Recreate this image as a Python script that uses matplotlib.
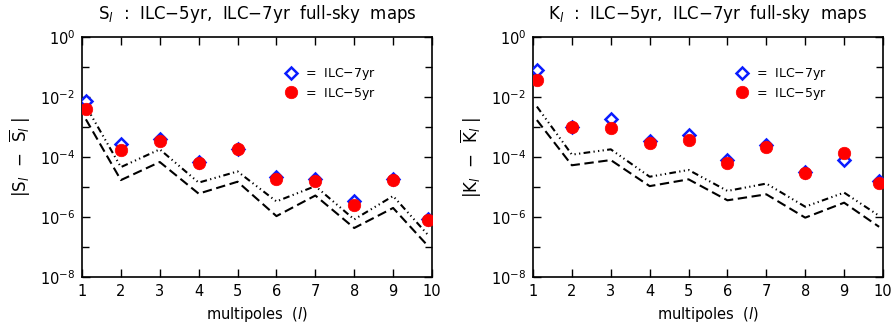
import matplotlib
matplotlib.use("Agg")
import matplotlib.pyplot as plt
from matplotlib.ticker import FixedLocator, NullFormatter, LogFormatterSciNotation

plt.rcParams['font.family'] = ['DejaVu Sans']
plt.rcParams['mathtext.fontset'] = 'dejavusans'

# multipole positions (first/last slightly offset from the frame as in the original)
ell = [1.1, 2, 3, 4, 5, 6, 7, 8, 9, 9.9]
xticks = [1, 2, 3, 4, 5, 6, 7, 8, 9, 10]

# S_l panel
S_7yr = [7.4e-3, 2.8e-4, 3.9e-4, 6.8e-5, 1.9e-4, 2.1e-5, 1.8e-5, 3.3e-6, 1.8e-5, 8.7e-7]
S_5yr = [3.9e-3, 1.7e-4, 3.5e-4, 6.5e-5, 1.9e-4, 1.8e-5, 1.55e-5, 2.6e-6, 1.7e-5, 7.7e-7]
S_upper = [5.0e-3, 4.6e-5, 1.8e-4, 1.4e-5, 3.3e-5, 3.3e-6, 1.07e-5, 8.3e-7, 5.0e-6, 2.5e-7]
S_lower = [1.8e-3, 1.7e-5, 6.8e-5, 6.0e-6, 1.5e-5, 1.07e-6, 5.2e-6, 4.3e-7, 2.0e-6, 1.07e-7]

# K_l panel
K_7yr = [7.9e-2, 1.0e-3, 1.9e-3, 3.4e-4, 5.3e-4, 8.1e-5, 2.6e-4, 3.2e-5, 8.1e-5, 1.6e-5]
K_5yr = [3.6e-2, 1.0e-3, 9.5e-4, 3.0e-4, 3.7e-4, 6.2e-5, 2.2e-4, 2.9e-5, 1.4e-4, 1.4e-5]
K_upper = [4.8e-3, 1.2e-4, 1.8e-4, 2.2e-5, 3.7e-5, 7.4e-6, 1.3e-5, 2.2e-6, 6.5e-6, 1.1e-6]
K_lower = [1.7e-3, 5.3e-5, 7.9e-5, 1.07e-5, 1.8e-5, 3.6e-6, 5.7e-6, 9.5e-7, 3.0e-6, 4.7e-7]

titles = [r'S$_{\mathit{l}}$  :  ILC$-$5yr,  ILC$-$7yr  full-sky  maps',
          r'K$_{\mathit{l}}$  :  ILC$-$5yr,  ILC$-$7yr  full-sky  maps']
ylabels = [r'|S$_{\mathit{l}}$  $-$  $\overline{\mathrm{S}}_{\mathit{l}}$ |',
           r'|K$_{\mathit{l}}$  $-$  $\overline{\mathrm{K}}_{\mathit{l}}$ |']
legend_labels = [r'=  ILC$-$7yr', r'=  ILC$-$5yr']

fig = plt.figure(figsize=(8.93, 3.29), dpi=100)
ax1 = fig.add_axes([82/893, 1-277/329, 350/893, 240/329])
ax2 = fig.add_axes([533/893, 1-277/329, 350/893, 240/329])

panels = [
    (ax1, S_7yr, S_5yr, S_upper, S_lower),
    (ax2, K_7yr, K_5yr, K_upper, K_lower),
]

for i, (ax, v7, v5, up, lo) in enumerate(panels):
    ax.plot(ell, up, color='black', lw=1.5,
            ls=(0, (3.2, 1.6, 0.6, 1.6, 0.6, 1.6, 0.6, 1.6)))
    ax.plot(ell, lo, color='black', lw=1.5, ls=(0, (4.5, 2.2)))
    h7, = ax.plot(ell, v7, ls='none', marker='D', ms=6.5, mfc='white',
                  mec='#0a1cff', mew=1.8, zorder=3)
    h5, = ax.plot(ell, v5, ls='none', marker='o', ms=9, mfc='#ff0000',
                  mec='#ff0000', mew=0.5, zorder=4)
    ax.set_yscale('log')
    ax.set_xlim(1, 10)
    ax.set_ylim(1e-8, 1)
    ax.set_xticks(xticks)
    ax.set_xticklabels([str(t) for t in xticks])
    ax.yaxis.set_major_locator(FixedLocator([1e-8, 1e-6, 1e-4, 1e-2, 1e0]))
    ax.yaxis.set_major_formatter(LogFormatterSciNotation())
    ax.yaxis.set_minor_locator(FixedLocator([1e-7, 1e-5, 1e-3, 1e-1]))
    ax.yaxis.set_minor_formatter(NullFormatter())
    ax.tick_params(which='both', direction='in', top=True, right=True,
                   labelsize=10.5, width=1.0)
    ax.tick_params(which='major', length=6, pad=5)
    ax.tick_params(which='minor', length=5)
    for s in ax.spines.values():
        s.set_linewidth(1.2)
    ax.set_title(titles[i], fontsize=12, pad=13)
    ax.set_ylabel(ylabels[i], fontsize=12, labelpad=5)
    ax.set_xlabel(r'multipoles  ($\mathit{l}$)', fontsize=10.5, labelpad=4)
    ax.legend([h7, h5], legend_labels, loc='upper left',
              bbox_to_anchor=(0.565, 0.9), frameon=False, fontsize=9,
              handlelength=1.0, handletextpad=0.6, labelspacing=0.3,
              borderaxespad=0)

fig.savefig('out.png', dpi=100)
